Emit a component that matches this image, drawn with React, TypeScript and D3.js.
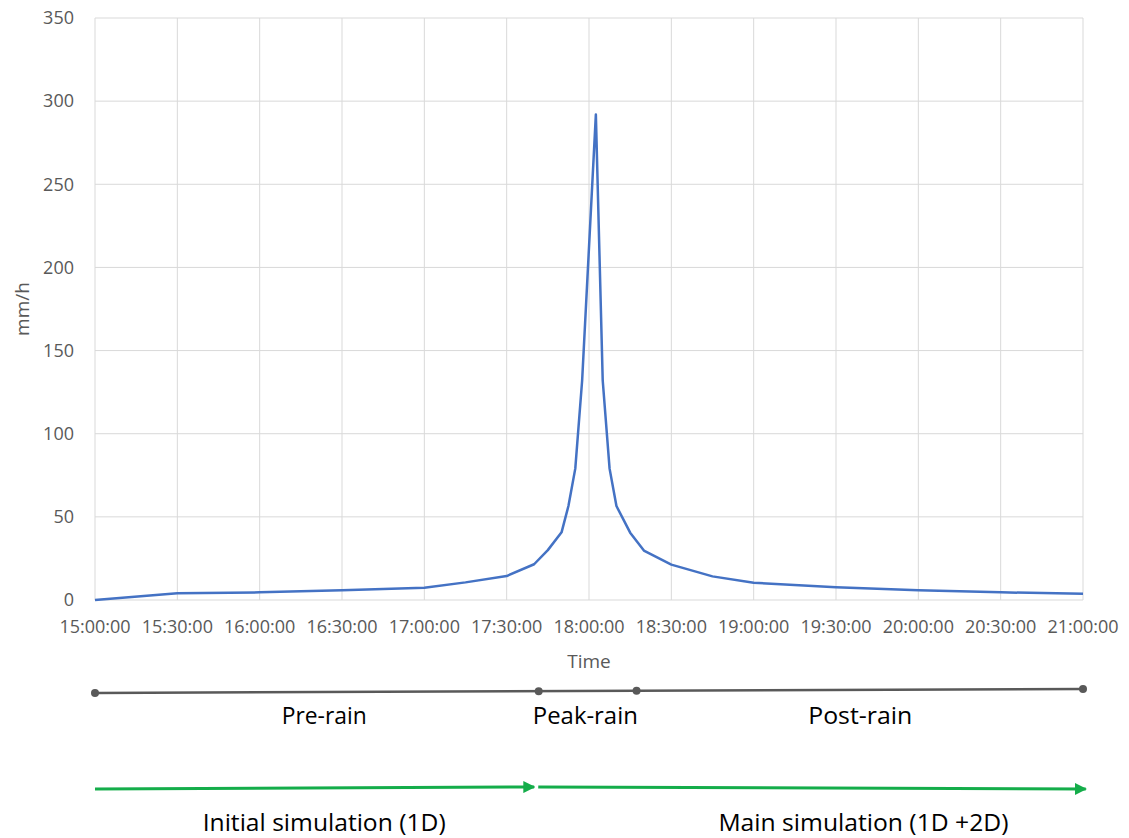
import React from "react";
import * as d3 from "d3";

// ---- Data ----
const times = [
  "15:00:00", "15:30:00", "16:00:00", "16:30:00", "17:00:00", "17:15:00",
  "17:30:00", "17:40:00", "17:45:00", "17:50:00", "17:52:30", "17:55:00",
  "17:57:30", "18:02:30", "18:05:00", "18:07:30", "18:10:00", "18:15:00",
  "18:20:00", "18:30:00", "18:45:00", "19:00:00", "19:30:00", "20:00:00",
  "20:30:00", "21:00:00",
];
const intensity = [
  0, 4.0, 4.6, 5.8, 7.4, 10.6,
  14.4, 21.5, 30, 40.7, 56.5, 79,
  132, 292, 132, 79, 56.5, 40.5,
  29.7, 21.3, 14.2, 10.4, 7.6, 5.8,
  4.6, 3.8,
];
const xTickLabels = [
  "15:00:00", "15:30:00", "16:00:00", "16:30:00", "17:00:00", "17:30:00",
  "18:00:00", "18:30:00", "19:00:00", "19:30:00", "20:00:00", "20:30:00", "21:00:00",
];
const yTicks = [0, 50, 100, 150, 200, 250, 300, 350];

// Rain phases (boundaries) and labels
const phaseBounds = ["15:00:00", "17:41:40", "18:17:20", "21:00:00"];
const phaseLabels = ["Pre-rain", "Peak-rain", "Post-rain"];
const phaseLabelTimes = ["16:23:30", "17:58:40", "19:38:50"];

// Simulation stages
const simStarts = ["15:00:00", "17:41:30"];
const simEnds = ["17:40:00", "21:01:00"];
const simLabels = ["Initial simulation (1D)", "Main simulation (1D +2D)"];
const simLabelTimes = ["16:23:30", "19:40:00"];

const parse = d3.timeParse("%H:%M:%S");

export default function App() {
  const W = 1129, H = 838;
  const m = { left: 95, right: 1083, top: 18, bottom: 600 };

  const x = d3
    .scaleTime()
    .domain([parse("15:00:00")!, parse("21:00:00")!])
    .range([m.left, m.right]);
  const y = d3.scaleLinear().domain([0, 350]).range([m.bottom, m.top]);

  const pts = times.map((t, i) => [parse(t)!, intensity[i]] as [Date, number]);
  const line = d3
    .line<[Date, number]>()
    .x((d) => x(d[0]))
    .y((d) => y(d[1]));

  const tickFont = "'Open Sans', 'Segoe UI', sans-serif";
  const annFont = "'Open Sans', sans-serif";
  const gridColor = "#d9d9d9";
  const textColor = "#595959";

  // phase line (slightly tilted as in the original)
  const phaseYLeft = 693, phaseYRight = 689;
  const phaseY = (px: number) =>
    phaseYLeft + ((px - m.left) / (m.right - m.left)) * (phaseYRight - phaseYLeft);

  const phaseLabelWidths = [85, 105, 104];
  const simLabelWidths = [243, 290];
  const simYs = [
    [789, 787],
    [787, 789],
  ];
  const green = "#14ad4a";

  return (
    <svg
      width={W}
      height={H}
      style={{ position: "absolute", left: 0, top: 0, background: "#fff" }}
    >
      <defs>
        <marker
          id="arrowG"
          viewBox="0 0 10 10"
          refX="9"
          refY="5"
          markerWidth="4"
          markerHeight="4"
          orient="auto"
          markerUnits="strokeWidth"
        >
          <path d="M0,0 L10,5 L0,10 Z" fill={green} />
        </marker>
      </defs>
      <rect width={W} height={H} fill="#fff" />

      {/* horizontal gridlines */}
      {yTicks.map((v) => (
        <line
          key={"h" + v}
          x1={m.left}
          x2={m.right}
          y1={y(v)}
          y2={y(v)}
          stroke={gridColor}
          strokeWidth={1}
        />
      ))}
      {/* vertical gridlines */}
      {xTickLabels.map((t) => (
        <line
          key={"v" + t}
          x1={x(parse(t)!)}
          x2={x(parse(t)!)}
          y1={m.top}
          y2={m.bottom}
          stroke={gridColor}
          strokeWidth={1}
        />
      ))}

      {/* y tick labels */}
      {yTicks.map((v) => (
        <text
          key={"yl" + v}
          x={74}
          y={y(v)}
          dy="0.35em"
          textAnchor="end"
          fontFamily={tickFont}
          fontSize={18}
          fill={textColor}
        >
          {v}
        </text>
      ))}
      {/* x tick labels */}
      {xTickLabels.map((t) => (
        <text
          key={"xl" + t}
          x={x(parse(t)!)}
          y={627}
          dy="0.35em"
          textAnchor="middle"
          fontFamily={tickFont}
          fontSize={18}
          fill={textColor}
        >
          {t}
        </text>
      ))}

      {/* axis titles */}
      <text
        x={(m.left + m.right) / 2}
        y={661}
        dy="0.35em"
        textAnchor="middle"
        fontFamily={tickFont}
        fontSize={19}
        fill={textColor}
      >
        Time
      </text>
      <text
        transform={`translate(22,${(m.top + m.bottom) / 2}) rotate(-90)`}
        textAnchor="middle"
        dy="0.35em"
        fontFamily={tickFont}
        fontSize={19}
        fill={textColor}
      >
        mm/h
      </text>

      {/* data line */}
      <path
        d={line(pts) || ""}
        fill="none"
        stroke="#4472c4"
        strokeWidth={2.5}
        strokeLinejoin="round"
      />

      {/* rain phases */}
      <line
        x1={x(parse(phaseBounds[0])!)}
        x2={x(parse(phaseBounds[phaseBounds.length - 1])!)}
        y1={phaseY(x(parse(phaseBounds[0])!))}
        y2={phaseY(x(parse(phaseBounds[phaseBounds.length - 1])!))}
        stroke="#595959"
        strokeWidth={2.5}
      />
      {phaseBounds.map((t) => {
        const px = x(parse(t)!);
        return <circle key={"pb" + t} cx={px} cy={phaseY(px)} r={4} fill="#595959" />;
      })}
      {phaseLabels.map((lbl, i) => (
        <text
          key={lbl}
          x={x(parse(phaseLabelTimes[i])!)}
          y={724}
          textAnchor="middle"
          fontFamily={annFont}
          fontSize={24}
          fill="#000"
          textLength={phaseLabelWidths[i]}
          lengthAdjust="spacingAndGlyphs"
        >
          {lbl}
        </text>
      ))}

      {/* simulation stages */}
      {simStarts.map((s, i) => (
        <line
          key={"sim" + i}
          x1={x(parse(s)!)}
          x2={x(parse(simEnds[i])!)}
          y1={simYs[i][0]}
          y2={simYs[i][1]}
          stroke={green}
          strokeWidth={3}
          markerEnd="url(#arrowG)"
        />
      ))}
      {simLabels.map((lbl, i) => (
        <text
          key={lbl}
          x={x(parse(simLabelTimes[i])!)}
          y={831}
          textAnchor="middle"
          fontFamily={annFont}
          fontSize={23}
          fill="#000"
          textLength={simLabelWidths[i]}
          lengthAdjust="spacingAndGlyphs"
        >
          {lbl}
        </text>
      ))}
    </svg>
  );
}
